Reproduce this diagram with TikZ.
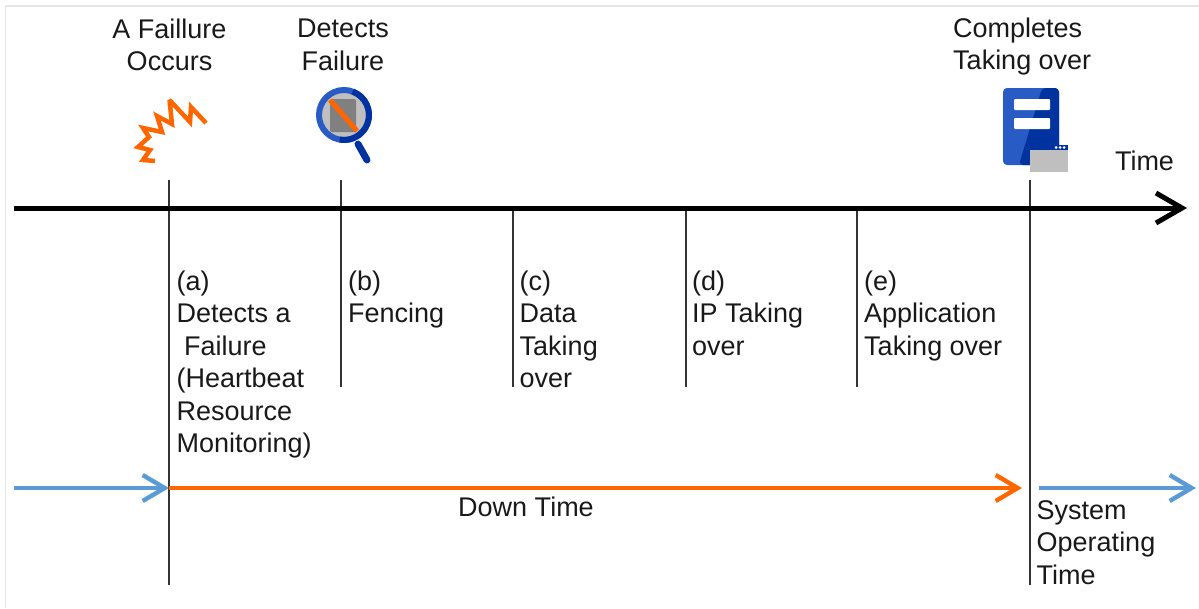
\documentclass[tikz,border=0pt]{standalone}
\usepackage{fontspec}
\setmainfont{Liberation Sans}
\usetikzlibrary{positioning, arrows.meta}
\definecolor{tlorange}{RGB}{255, 102, 0}
\definecolor{tlblue}{RGB}{91, 155, 213}
\definecolor{icondark}{RGB}{0, 51, 160}
\definecolor{iconmid}{RGB}{41, 91, 196}
\definecolor{icongray}{RGB}{191, 191, 191}
\tikzset{
    lbl/.style={inner sep=0pt, align=left, anchor=north west, font=\fontsize{27}{32.5}\selectfont, text=black!90},
    toplbl/.style={inner sep=0pt, align=center, font=\fontsize{27}{32.5}\selectfont, text=black!90},
    tick/.style={draw=black!80, line width=1.4pt},
    flow/.style={line width=4.4pt, -{Straight Barb[length=22pt, width=26pt, line width=4.4pt]}},
}
\begin{document}
\begin{tikzpicture}[x=1pt, y=-1pt]
    \useasboundingbox (0,0) rectangle (1199,608);
    \draw[black!10, line width=1.5pt] (1199,6) -- (5.5,6) -- (5.5,608);
    % tick ends
    \coordinate (ta) at (169,180);
    \coordinate (tb) at (341,180);
    \coordinate (tc) at (513,208);
    \coordinate (td) at (686,208);
    \coordinate (te) at (857,208);
    \coordinate (tf) at (1030,180);
    \coordinate (ba) at (169,585);
    \coordinate (bb) at (341,387);
    \coordinate (bc) at (513,387);
    \coordinate (bd) at (686,387);
    \coordinate (be) at (857,387);
    \coordinate (bf) at (1030,585);
    \foreach \n in {a,b,c,d,e,f} \draw[tick] (t\n) -- (b\n);
    % time axis
    \coordinate (axisl) at (14,208);
    \coordinate (axisr) at (1187,208);
    \draw[line width=5pt, -{Straight Barb[length=26pt, width=30pt, line width=5pt]}] (axisl) -- (axisr);
    \node[lbl, anchor=center] (timelbl) at (1144.5,161) {Time};
    % top labels
    \node[toplbl] (failure) at (169.5,45) {A Faillure\\Occurs};
    \node[toplbl] (detects) at (343,45) {Detects\\Failure};
    \node[lbl] (completes) at (953,17.5) {Completes\\Taking over};
    % spark icon
    \draw[tlorange, line width=4.5pt, miter limit=3] (155,161) -- (143,160) -- (150,150) -- (138,147) -- (149,137) -- (143,128) -- (162,132) -- (157,116) -- (172,124) -- (169.5,100) -- (190,122) -- (191,107) -- (206,123);
    % magnifier icon
    \fill[icongray] (344,115) circle (25);
    \fill[black!50, rounded corners=2pt] (330,99) rectangle (356,132);
    \draw[iconmid, line width=6pt] (344,115) circle (25);
    \draw[icondark, line width=6pt] (344,115) ++(-70:25) arc[start angle=-70, end angle=100, radius=25];
    \draw[tlorange, line width=5pt] (330,100) -- (357,131);
    \draw[icondark, line width=7pt, line cap=round] (358,144) -- (367,160);
    % server icon
    \fill[iconmid, rounded corners=4pt] (1003,88) rectangle (1059,165);
    \fill[icondark, rounded corners=4pt] (1042,88) -- (1059,88) -- (1059,165) -- (1019,165) -- cycle;
    \fill[white, rounded corners=1pt] (1014,99) rectangle (1050,110);
    \fill[white, rounded corners=1pt] (1014,118) rectangle (1050,129);
    \fill[icondark] (1030,145) rectangle (1068,150);
    \fill[icongray] (1030,150) rectangle (1068,172);
    \foreach \dotx in {1056,1060,1064} \fill[white] (\dotx,147.5) circle (1.5);
    % step labels
    \node[lbl] (stepa) at (176.5,270.5) {(a)\\Detects a\\\ Failure\\(Heartbeat\\Resource\\Monitoring)};
    \node[lbl] (stepb) at (348,270.5) {(b)\\Fencing};
    \node[lbl] (stepc) at (519.5,270.5) {(c)\\Data\\Taking\\over};
    \node[lbl] (stepd) at (692,270.5) {(d)\\IP Taking\\over};
    \node[lbl] (stepe) at (864,270.5) {(e)\\Application\\Taking over};
    % time spans
    \coordinate (upl) at (14,488);
    \coordinate (dnr) at (1022,488);
    \coordinate (upr) at (1039,488);
    \coordinate (endr) at (1196,488);
    \draw[flow, tlblue] (upl) -- (ba |- upl);
    \draw[flow, tlorange] (ba |- upl) -- (dnr);
    \draw[flow, tlblue] (upr) -- (endr);
    \node[lbl, anchor=center] (downlbl) at (526,507) {Down Time};
    \node[lbl] (uplbl) at (1036.5,500) {System\\Operating\\Time};
\end{tikzpicture}
\end{document}
